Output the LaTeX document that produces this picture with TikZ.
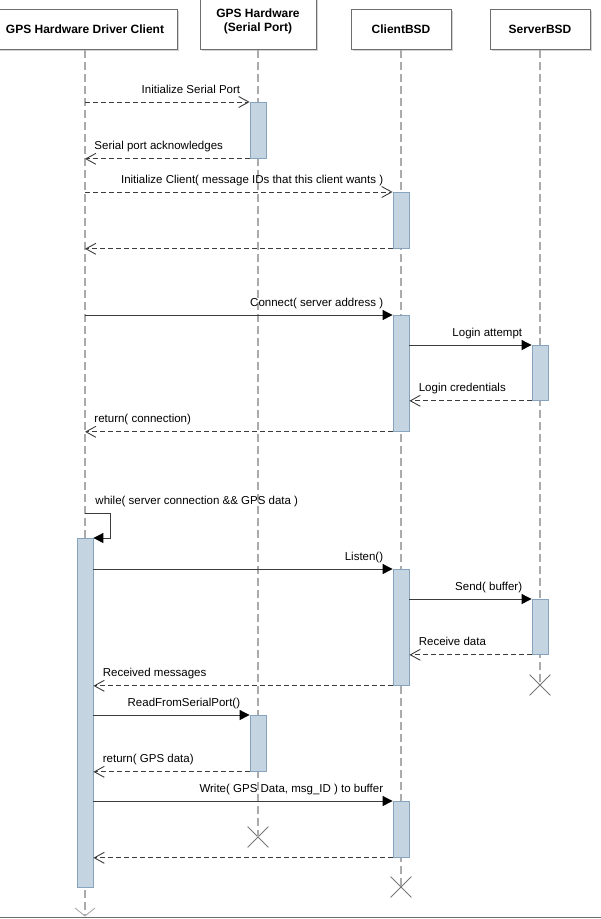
\documentclass[tikz,border=0pt]{standalone}
\usepackage{fontspec}
\setmainfont{Liberation Sans}
\usetikzlibrary{arrows.meta,shapes.misc,shadows}
\definecolor{actfill}{HTML}{C4D4E1}
\definecolor{actedge}{HTML}{86A4BE}
\definecolor{lifegray}{HTML}{ABABAB}
\definecolor{msgdark}{HTML}{3C3C3C}
\definecolor{boxedge}{HTML}{6E6E6E}
\definecolor{crossgray}{HTML}{777777}
\tikzset{
  head/.style={
    rectangle, draw=boxedge, fill=white, line width=0.8pt, anchor=south,
    align=center, font=\fontsize{12}{14}\selectfont\bfseries,
    drop shadow={shadow xshift=1.5pt, shadow yshift=-1.5pt, opacity=0.35, fill=gray}
  },
  lifeline/.style={draw=lifegray, line width=1.1pt, dash pattern=on 8pt off 4pt},
  act/.style={
    rectangle, draw=actedge, fill=actfill, line width=0.8pt,
    minimum width=16pt, inner sep=0pt, anchor=north
  },
  call/.style={draw=msgdark, line width=0.9pt, -{Triangle[length=10pt,width=10pt,color=black]}},
  dashmsg/.style={draw=msgdark, line width=0.9pt, dash pattern=on 5pt off 3pt,
    -{Straight Barb[length=10pt,width=11pt]}},
  lbl/.style={inner sep=0pt, font=\fontsize{11.5}{13}\selectfont},
  lblR/.style={lbl, anchor=base east, xshift=-9pt, yshift=9pt},
  lblL/.style={lbl, anchor=base west, xshift=9pt, yshift=9pt},
  killed/.style={cross out, draw=crossgray, line width=0.8pt, minimum size=20pt, inner sep=0pt}
}
\newcommand{\actbar}[4]{
  \node[act, minimum height={#4-#3}] (#1) at (#2,#3) {};
}

\begin{document}
\begin{tikzpicture}[x=1pt, y=-1pt]
\useasboundingbox (0,0) rectangle (601,919);
% participants
\node[head, minimum width=185pt, minimum height=40pt] (drv) at (85,50) {GPS Hardware Driver Client};
\node[head, minimum width=116pt, minimum height=56pt] (gps) at (258,50) {GPS Hardware\\(Serial Port)};
\node[head, minimum width=100pt, minimum height=40pt] (cli) at (401,50) {ClientBSD};
\node[head, minimum width=100pt, minimum height=40pt] (srv) at (540,50) {ServerBSD};
% ends of the lifelines
\coordinate (drvEnd) at (85,916);
\node[killed] (gpsX) at (258,837) {};
\node[killed] (cliX) at (401,887) {};
\node[killed] (srvX) at (540,685) {};
\draw[lifeline] (drv.south) -- (drvEnd);
\draw[lifeline] (gps.south) -- (gpsX.center);
\draw[lifeline] (cli.south) -- (cliX.center);
\draw[lifeline] (srv.south) -- (srvX.center);
\draw[lifegray, line width=0.9pt] (drvEnd) ++(-10,-8) -- (drvEnd) -- ++(10,-8);
\draw[boxedge, line width=0.9pt] (0,917) -- (601,917);
% activations
\actbar{gpsA1}{258}{102}{158}
\actbar{cliA1}{401}{192}{248}
\actbar{cliA2}{401}{315}{431}
\actbar{srvA1}{540}{345}{400}
\actbar{drvA}{85}{538}{887}
\actbar{cliA3}{401}{569}{685}
\actbar{srvA2}{540}{599}{654}
\actbar{gpsA2}{258}{715}{771}
\actbar{cliA4}{401}{801}{857}
% set up
\draw[dashmsg] (drv |- gpsA1.north) -- (gpsA1.north west) node[lblR] {Initialize Serial Port};
\draw[dashmsg] (gpsA1.south west) -- (drv |- gpsA1.south) node[lblL] {Serial port acknowledges};
\draw[dashmsg] (drv |- cliA1.north) -- (cliA1.north west) node[lblR] {Initialize Client( message IDs that this client wants )};
\draw[dashmsg] (cliA1.south west) -- (drv |- cliA1.south);
% connection
\draw[call] (drv |- cliA2.north) -- (cliA2.north west) node[lblR] {Connect( server address )};
\draw[call] (cliA2.east |- srvA1.north) -- (srvA1.north west) node[lblR] {Login attempt};
\draw[dashmsg] (srvA1.south west) -- (cliA2.east |- srvA1.south) node[lblL] {Login credentials};
\draw[dashmsg] (cliA2.south west) -- (drv |- cliA2.south) node[lblL] {return( connection)};
% loop
\coordinate (loopTop) at (85,513);
\draw[call] (loopTop) -- ++(25,0) node[pos=0, lblL, xshift=1pt] {while( server connection \&\& GPS data )}
  |- (drvA.north east);
\draw[call] (drvA.east |- cliA3.north) -- (cliA3.north west) node[lblR] {Listen()};
\draw[call] (cliA3.east |- srvA2.north) -- (srvA2.north west) node[lblR] {Send( buffer)};
\draw[dashmsg] (srvA2.south west) -- (cliA3.east |- srvA2.south) node[lblL] {Receive data};
\draw[dashmsg] (cliA3.south west) -- (drvA.east |- cliA3.south) node[lblL] {Received messages};
\draw[call] (drvA.east |- gpsA2.north) -- (gpsA2.north west) node[lblR] {ReadFromSerialPort()};
\draw[dashmsg] (gpsA2.south west) -- (drvA.east |- gpsA2.south) node[lblL] {return( GPS data)};
\draw[call] (drvA.east |- cliA4.north) -- (cliA4.north west) node[lblR] {Write( GPS Data, msg\_ID ) to buffer};
\draw[dashmsg] (cliA4.south west) -- (drvA.east |- cliA4.south);
\end{tikzpicture}
\end{document}
